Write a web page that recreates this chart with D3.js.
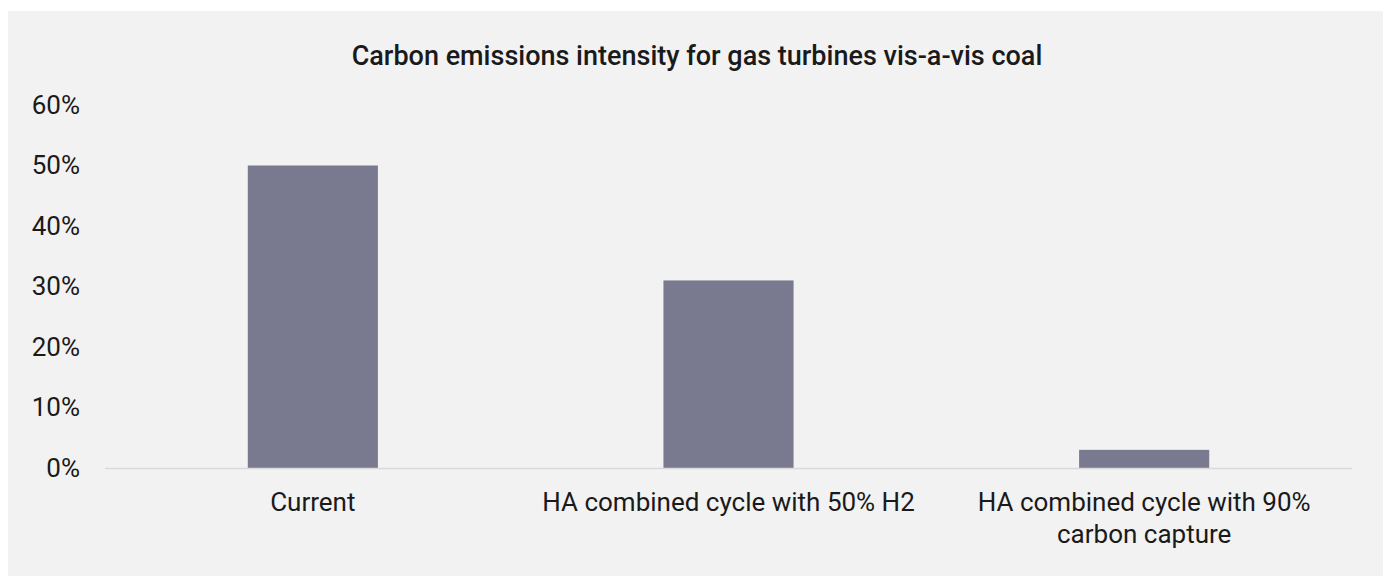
<!DOCTYPE html>
<html lang="en">
<head>
<meta charset="utf-8">
<title>Carbon emissions intensity</title>
<script src="https://cdn.jsdelivr.net/npm/d3@7"></script>
<style>
  body { margin: 0; background: #fff; }
  text { font-family: Roboto, "Noto Sans", sans-serif; fill: #1a1a1a; }
</style>
</head>
<body>
<script>
// data
var categories = ["Current", "HA combined cycle with 50% H2", "HA combined cycle with 90%|carbon capture"];
var values = [0.50, 0.31, 0.03];
var yTicks = [0, 0.1, 0.2, 0.3, 0.4, 0.5, 0.6];
var title = "Carbon emissions intensity for gas turbines vis-a-vis coal";

var w = 1388, h = 576;

var svg = d3.select("body").append("svg")
  .attr("width", w)
  .attr("height", h);

// grey panel
svg.append("rect")
  .attr("x", 8).attr("y", 11)
  .attr("width", 1375).attr("height", h - 11)
  .attr("fill", "#f2f2f2");

svg.append("text")
  .attr("x", 697).attr("y", 65)
  .attr("text-anchor", "middle")
  .style("font-size", "27px")
  .style("font-weight", 500)
  .text(title);

var x = d3.scaleBand()
  .domain(categories)
  .range([105, 1352])
  .paddingInner(0.687)
  .paddingOuter(0.3435);

var y = d3.scaleLinear().domain([0, 0.6]).range([468, 105]);

// y tick labels (no axis line)
var yAxis = d3.axisLeft(y)
  .tickValues(yTicks)
  .tickFormat(d3.format(".0%"))
  .tickSize(0)
  .tickPadding(0);

var gy = svg.append("g")
  .attr("transform", "translate(80,0)")
  .call(yAxis);
gy.select(".domain").remove();
gy.selectAll("text")
  .style("font-size", "26px")
  .style("font-family", null)
  .attr("fill", "#1a1a1a");

// bars
svg.selectAll("rect.bar")
  .data(values)
  .enter()
  .append("rect")
  .attr("class", "bar")
  .attr("x", function(d, i) { return x(categories[i]); })
  .attr("width", x.bandwidth())
  .attr("y", function(d) { return y(d); })
  .attr("height", function(d) { return y(0) - y(d); })
  .attr("fill", "#797990");

// baseline
svg.append("line")
  .attr("x1", 105).attr("x2", 1352)
  .attr("y1", y(0) + 0.5).attr("y2", y(0) + 0.5)
  .attr("stroke", "#d9d9d9")
  .attr("stroke-width", 1.5);

// category labels, split on |
var labels = svg.selectAll("text.cat")
  .data(categories)
  .enter()
  .append("text")
  .attr("class", "cat")
  .attr("text-anchor", "middle")
  .attr("y", 511)
  .style("font-size", "26px");

labels.each(function(d) {
  var t = d3.select(this);
  var cx = x(d) + x.bandwidth() / 2;
  d.split("|").forEach(function(line, k) {
    t.append("tspan")
      .attr("x", cx)
      .attr("dy", k === 0 ? 0 : 32)
      .text(line);
  });
});
</script>
</body>
</html>
